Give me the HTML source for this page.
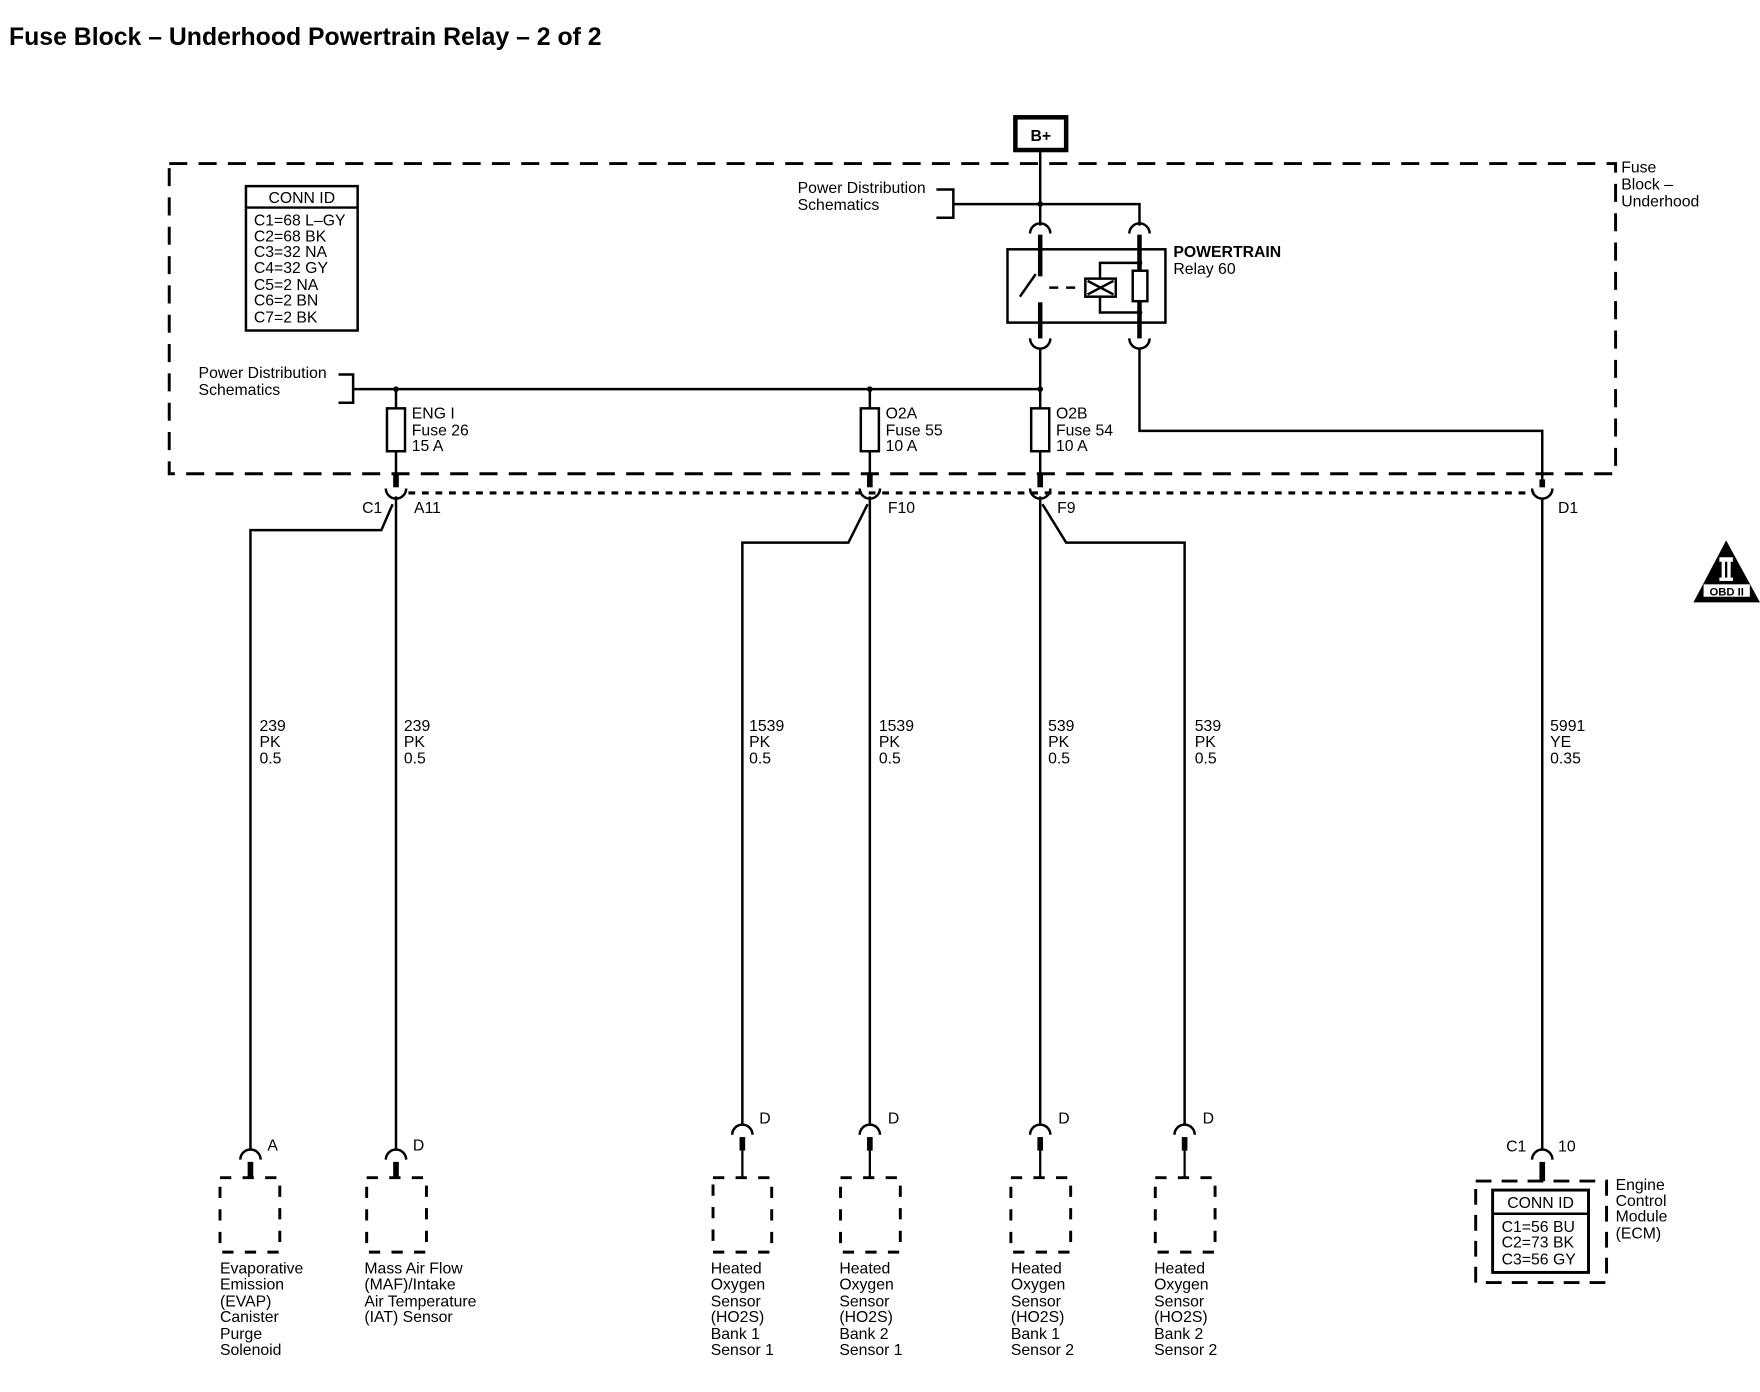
<!DOCTYPE html>
<html><head><meta charset="utf-8"><style>
html,body{margin:0;padding:0;background:#fff;width:1760px;height:1392px;overflow:hidden}
svg{display:block}
text{font-family:"Liberation Sans",Arial,sans-serif;font-size:14px;fill:#000}
</style></head><body>
<svg width="1760" height="1392" viewBox="0 0 1560 1234" preserveAspectRatio="none">
<g fill="none" stroke="#000" stroke-width="2.2">
<rect x="150" y="145" width="1282" height="275" stroke-dasharray="16,10" stroke-width="2.6"/>
<rect x="900" y="104" width="45" height="29" stroke-width="4"/>
<line x1="922" y1="133" x2="922" y2="200"/>
<polyline points="845,181 1010,181 1010,200"/>
<polyline points="830,168 845,168 845,193 830,193"/>
<path d="M913,207 A9,9 0 0 1 931,207"/>
<path d="M1001,207 A9,9 0 0 1 1019,207"/>
<line x1="922" y1="208" x2="922" y2="245" stroke-width="4"/>
<line x1="1010" y1="208" x2="1010" y2="240" stroke-width="4"/>
<rect x="893" y="221" width="140" height="65"/>
<line x1="918" y1="243" x2="904" y2="263"/>
<line x1="922" y1="268" x2="922" y2="300" stroke-width="4"/>
<line x1="930" y1="255" x2="960" y2="255" stroke-dasharray="8,7"/>
<polyline points="1010,233 975,233 975,277 1010,277"/>
<rect x="962" y="247" width="27" height="16" fill="#fff"/>
<line x1="964" y1="249" x2="987" y2="261"/><line x1="964" y1="261" x2="987" y2="249"/>
<rect x="1004" y="240" width="13" height="27" fill="#fff"/>
<line x1="1010" y1="267" x2="1010" y2="300" stroke-width="4"/>
<path d="M913,300 A9,9 0 0 0 931,300"/>
<path d="M1001,300 A9,9 0 0 0 1019,300"/>
<line x1="922" y1="309" x2="922" y2="420"/>
<polyline points="1010,309 1010,382 1367,382 1367,430"/>
<line x1="313" y1="345" x2="922" y2="345"/>
<polyline points="300,332 313,332 313,357 300,357"/>
<line x1="351" y1="345" x2="351" y2="420"/>
<line x1="771" y1="345" x2="771" y2="420"/>
<rect x="343" y="362" width="16" height="38" fill="#fff"/>
<rect x="763" y="362" width="16" height="38" fill="#fff"/>
<rect x="914" y="362" width="16" height="38" fill="#fff"/>
<line x1="362" y1="437" x2="1360" y2="437" stroke-dasharray="6,6" stroke-width="2.8"/>
<g stroke-width="5"><line x1="351" y1="420" x2="351" y2="432"/><line x1="771" y1="420" x2="771" y2="432"/><line x1="922" y1="420" x2="922" y2="432"/><line x1="1367" y1="425" x2="1367" y2="432"/></g>
<path d="M342,433 A9,9 0 0 0 360,433"/>
<path d="M762,433 A9,9 0 0 0 780,433"/>
<path d="M913,433 A9,9 0 0 0 931,433"/>
<path d="M1358,433 A9,9 0 0 0 1376,433"/>
<line x1="351" y1="440" x2="351" y2="1020"/>
<polyline points="348,447 338,470 222,470 222,1020"/>
<line x1="771" y1="440" x2="771" y2="998"/>
<polyline points="769,447 752,481 658,481 658,998"/>
<line x1="922" y1="440" x2="922" y2="998"/>
<polyline points="924,447 945,481 1050,481 1050,998"/>
<line x1="1367" y1="442" x2="1367" y2="1020"/>
<path d="M213,1028 A9,9 0 0 1 231,1028"/>
<path d="M342,1028 A9,9 0 0 1 360,1028"/>
<path d="M649,1006 A9,9 0 0 1 667,1006"/>
<path d="M762,1006 A9,9 0 0 1 780,1006"/>
<path d="M913,1006 A9,9 0 0 1 931,1006"/>
<path d="M1041,1006 A9,9 0 0 1 1059,1006"/>
<path d="M1358,1028 A9,9 0 0 1 1376,1028"/>
<g stroke-width="5">
<line x1="222" y1="1030" x2="222" y2="1044"/><line x1="351" y1="1030" x2="351" y2="1044"/>
<line x1="658" y1="1008" x2="658" y2="1020"/><line x1="771" y1="1008" x2="771" y2="1020"/>
<line x1="922" y1="1008" x2="922" y2="1020"/><line x1="1050" y1="1008" x2="1050" y2="1020"/>
<line x1="1367" y1="1030" x2="1367" y2="1047"/>
</g>
<g stroke-width="2"><line x1="658" y1="1020" x2="658" y2="1044"/><line x1="771" y1="1020" x2="771" y2="1044"/><line x1="922" y1="1020" x2="922" y2="1044"/><line x1="1050" y1="1020" x2="1050" y2="1044"/></g>
<g stroke-width="2.6" stroke-dasharray="10,10">
<rect x="195" y="1044" width="53" height="66"/>
<rect x="325" y="1044" width="53" height="66"/>
<rect x="632" y="1044" width="52" height="66"/>
<rect x="745" y="1044" width="53" height="66"/>
<rect x="896" y="1044" width="53" height="66"/>
<rect x="1024" y="1044" width="53" height="66"/>
<rect x="1308" y="1047" width="116" height="90" stroke-dasharray="14,9"/>
</g>
<rect x="1323" y="1055" width="85" height="73" stroke-width="2.6"/>
<line x1="1323" y1="1076" x2="1408" y2="1076"/>
<rect x="218" y="165" width="99" height="128"/>
<line x1="218" y1="184" x2="317" y2="184"/>
</g>
<g fill="#000">
<circle cx="922" cy="181" r="2.5"/><circle cx="1010" cy="233" r="2.5"/><circle cx="1010" cy="277" r="2.5"/>
<circle cx="351" cy="345" r="2.5"/><circle cx="771" cy="345" r="2.5"/><circle cx="922" cy="345" r="2.5"/>
<polygon points="1530,479 1560,534 1501,534"/>
</g>
<g fill="#fff"><rect x="1510" y="518" width="41" height="11"/><rect x="1524" y="494" width="12" height="4"/><rect x="1524" y="512" width="12" height="3"/><rect x="1526" y="497" width="3" height="16"/><rect x="1531" y="497" width="3" height="16"/></g>
<text x="1530.5" y="528" text-anchor="middle" style="font-size:10px;font-weight:bold">OBD II</text>

<text x="8" y="40" style="font-size:22px;font-weight:bold">Fuse Block – Underhood Powertrain Relay – 2 of 2</text>
<text x="922.5" y="125" text-anchor="middle" style="font-weight:bold;font-size:14px">B+</text>
<text x="1437" y="153">Fuse</text><text x="1437" y="168">Block –</text><text x="1437" y="183">Underhood</text>
<text x="707" y="171">Power Distribution</text><text x="707" y="186">Schematics</text>
<text x="1040" y="228" style="font-weight:bold">POWERTRAIN</text><text x="1040" y="243">Relay 60</text>
<text x="176" y="335">Power Distribution</text><text x="176" y="350">Schematics</text>
<text x="267.5" y="180" text-anchor="middle">CONN ID</text>
<text x="225" y="200">C1=68 L–GY</text><text x="225" y="214">C2=68 BK</text><text x="225" y="228">C3=32 NA</text><text x="225" y="242">C4=32 GY</text><text x="225" y="257">C5=2 NA</text><text x="225" y="271">C6=2 BN</text><text x="225" y="286">C7=2 BK</text>
<text x="365" y="371">ENG I</text><text x="365" y="386">Fuse 26</text><text x="365" y="400">15 A</text>
<text x="785" y="371">O2A</text><text x="785" y="386">Fuse 55</text><text x="785" y="400">10 A</text>
<text x="936" y="371">O2B</text><text x="936" y="386">Fuse 54</text><text x="936" y="400">10 A</text>
<text x="321" y="455">C1</text><text x="367" y="455">A11</text><text x="787" y="455">F10</text><text x="937" y="455">F9</text><text x="1381" y="455">D1</text>
<text x="230" y="648">239</text><text x="230" y="662">PK</text><text x="230" y="677">0.5</text>
<text x="358" y="648">239</text><text x="358" y="662">PK</text><text x="358" y="677">0.5</text>
<text x="664" y="648">1539</text><text x="664" y="662">PK</text><text x="664" y="677">0.5</text>
<text x="779" y="648">1539</text><text x="779" y="662">PK</text><text x="779" y="677">0.5</text>
<text x="929" y="648">539</text><text x="929" y="662">PK</text><text x="929" y="677">0.5</text>
<text x="1059" y="648">539</text><text x="1059" y="662">PK</text><text x="1059" y="677">0.5</text>
<text x="1374" y="648">5991</text><text x="1374" y="662">YE</text><text x="1374" y="677">0.35</text>
<text x="237" y="1020">A</text><text x="366" y="1020">D</text>
<text x="673" y="996">D</text><text x="787" y="996">D</text><text x="938" y="996">D</text><text x="1066" y="996">D</text>
<text x="1335" y="1021">C1</text><text x="1381" y="1021">10</text>
<text x="1365.5" y="1071" text-anchor="middle">CONN ID</text>
<text x="1331" y="1092">C1=56 BU</text><text x="1331" y="1106">C2=73 BK</text><text x="1331" y="1121">C3=56 GY</text>
<text x="1432" y="1055">Engine</text><text x="1432" y="1069">Control</text><text x="1432" y="1083">Module</text><text x="1432" y="1098">(ECM)</text>
<g>
<text x="195" y="1129">Evaporative</text><text x="195" y="1143">Emission</text><text x="195" y="1158">(EVAP)</text><text x="195" y="1172">Canister</text><text x="195" y="1187">Purge</text><text x="195" y="1201">Solenoid</text>
<text x="323" y="1129">Mass Air Flow</text><text x="323" y="1143">(MAF)/Intake</text><text x="323" y="1158">Air Temperature</text><text x="323" y="1172">(IAT) Sensor</text>
<text x="630" y="1129">Heated</text><text x="630" y="1143">Oxygen</text><text x="630" y="1158">Sensor</text><text x="630" y="1172">(HO2S)</text><text x="630" y="1187">Bank 1</text><text x="630" y="1201">Sensor 1</text>
<text x="744" y="1129">Heated</text><text x="744" y="1143">Oxygen</text><text x="744" y="1158">Sensor</text><text x="744" y="1172">(HO2S)</text><text x="744" y="1187">Bank 2</text><text x="744" y="1201">Sensor 1</text>
<text x="896" y="1129">Heated</text><text x="896" y="1143">Oxygen</text><text x="896" y="1158">Sensor</text><text x="896" y="1172">(HO2S)</text><text x="896" y="1187">Bank 1</text><text x="896" y="1201">Sensor 2</text>
<text x="1023" y="1129">Heated</text><text x="1023" y="1143">Oxygen</text><text x="1023" y="1158">Sensor</text><text x="1023" y="1172">(HO2S)</text><text x="1023" y="1187">Bank 2</text><text x="1023" y="1201">Sensor 2</text>
</g>
</svg>
</body></html>
